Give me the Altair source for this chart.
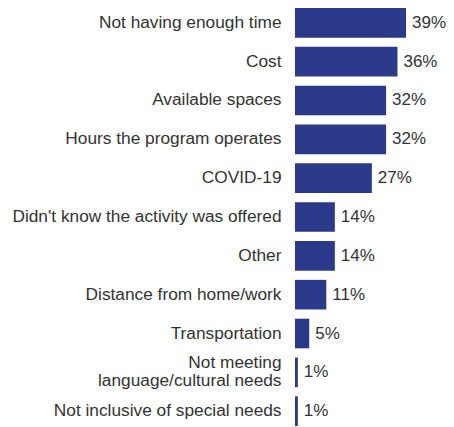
import altair as alt
import pandas as pd

categories = [
    "Not having enough time",
    "Cost",
    "Available spaces",
    "Hours the program operates",
    "COVID-19",
    "Didn't know the activity was offered",
    "Other",
    "Distance from home/work",
    "Transportation",
    "Not meeting|language/cultural needs",
    "Not inclusive of special needs",
]
values = [39, 36, 32, 32, 27, 14, 14, 11, 5, 1, 1]

df = pd.DataFrame({"category": categories, "value": values})
df["label"] = df["value"].astype(str) + "%"

FONT = "Liberation Sans"
base = alt.Chart(df).encode(
    y=alt.Y(
        "category:N",
        sort=categories,
        title=None,
        scale=alt.Scale(paddingInner=0.237, paddingOuter=0),
        axis=alt.Axis(
            domain=False,
            ticks=False,
            labelPadding=14,
            labelFont=FONT,
            labelFontSize=17.3,
            labelColor="#333333",
            labelLimit=400,
            labelLineHeight=18,
            labelExpr="split(datum.label, '|')",
            labelOffset=alt.condition(
                "indexof(datum.value, '|') >= 0", alt.value(-9), alt.value(0)
            ),
        ),
    ),
    x=alt.X(
        "value:Q",
        title=None,
        scale=alt.Scale(domain=[0, 39], nice=False),
        axis=None,
    ),
)

bars = base.mark_bar(color="#2b3a8b")
text = base.mark_text(
    align="left", baseline="middle", dx=6, font=FONT, fontSize=17, color="#333333"
).encode(text="label:N")

chart = (
    (bars + text)
    .properties(
        width=111,
        height=418,
        autosize=alt.AutoSizeParams(type="none"),
        padding={"left": 287, "top": 0, "right": 40, "bottom": 0},
    )
    .configure_view(stroke=None)
)

chart.save("out.html", embed_options={"renderer": "svg", "actions": False})
